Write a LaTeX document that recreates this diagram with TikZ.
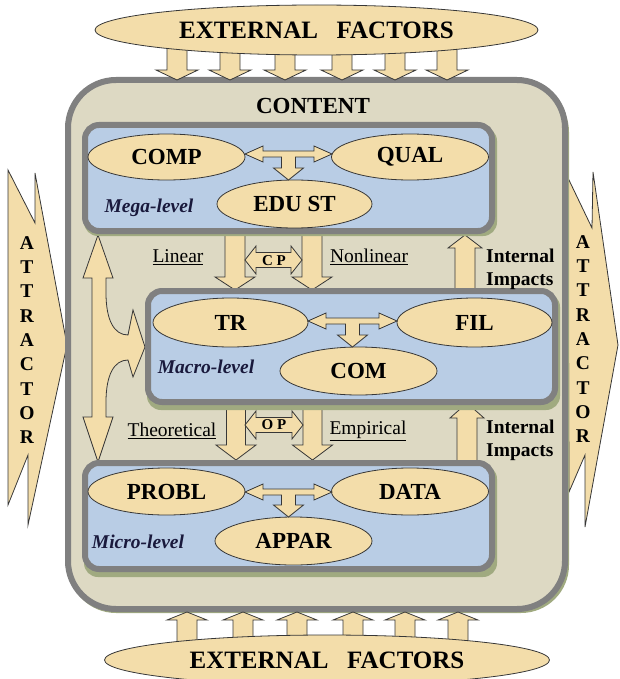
\documentclass[tikz,border=0pt]{standalone}
\usepackage{fontspec}
\setmainfont{Liberation Serif}
\usetikzlibrary{shapes.geometric}
\definecolor{tanfill}{RGB}{243,221,170}
\definecolor{beige}{RGB}{221,217,195}
\definecolor{lblue}{RGB}{185,205,229}
\definecolor{bordgray}{RGB}{128,128,128}
\definecolor{olivesh}{RGB}{160,170,128}
\definecolor{navy}{RGB}{25,25,60}
\definecolor{outl}{RGB}{55,55,55}
\newcommand{\myVarrow}[6]{% xc, ystart, ybase, ytip, shaft half, head half
  \draw[blk] ({#1-#5},#2) -- ({#1-#5},#3) -- ({#1-#6},#3) -- (#1,#4) -- ({#1+#6},#3) -- ({#1+#5},#3) -- ({#1+#5},#2) -- cycle;}
\newcommand{\myHarrow}[5]{% xL, xR, yc, shaft half, head half
  \draw[blk] (#1,#3) -- ({#1+11},{#3-#5}) -- ({#1+11},{#3-#4}) -- ({#2-11},{#3-#4}) -- ({#2-11},{#3-#5}) -- (#2,#3)
    -- ({#2-11},{#3+#5}) -- ({#2-11},{#3+#4}) -- ({#1+11},{#3+#4}) -- ({#1+11},{#3+#5}) -- cycle;}
\newcommand{\myTarrow}[4]{% xL, xR, yc, ytip
  \pgfmathsetmacro\myxc{(#1+#2)/2}%
  \pgfmathsetmacro\myyb{#4-12}%
  \draw[blk] (#1,#3) -- ({#1+18},{#3-8}) -- ({#1+18},{#3-3}) -- ({#2-18},{#3-3}) -- ({#2-18},{#3-8}) -- (#2,#3)
    -- ({#2-18},{#3+8}) -- ({#2-18},{#3+3}) -- ({\myxc+7},{#3+3}) -- ({\myxc+7},\myyb) -- ({\myxc+15},\myyb)
    -- (\myxc,#4) -- ({\myxc-15},\myyb) -- ({\myxc-7},\myyb) -- ({\myxc-7},{#3+3}) -- ({#1+18},{#3+3})
    -- ({#1+18},{#3+8}) -- cycle;}
\begin{document}
\begin{tikzpicture}[x=1pt,y=-1pt,
  blk/.style={fill=tanfill,draw=outl,line width=0.8pt,line join=miter},
  ell/.style={ellipse,fill=tanfill,draw=outl,line width=0.8pt,inner sep=0pt,font=\fontsize{23}{23}\selectfont\bfseries},
  extell/.style={ell,font=\fontsize{25}{25}\selectfont\bfseries},
  levelbox/.style={fill=lblue,draw=bordgray,line width=6pt,rounded corners=14pt},
  levelshadow/.style={fill=olivesh,rounded corners=14pt},
  lvl/.style={font=\fontsize{19.5}{20}\selectfont\bfseries\itshape,text=navy,inner sep=0pt},
  ul/.style={font=\fontsize{19.5}{20}\selectfont,inner sep=0pt},
  imp/.style={font=\fontsize{19.5}{23}\selectfont\bfseries,align=left,anchor=west,inner sep=0pt},
  small/.style={font=\fontsize{15}{15}\selectfont\bfseries,inner sep=0pt},
  attr/.style={font=\fontsize{19.5}{24.3}\selectfont\bfseries,align=center,inner sep=0pt}]
\useasboundingbox (0,0) rectangle (620,679);

% attractors
\draw[blk] (8,170) -- (35,223) -- (35,173) -- (67,345) -- (28,525) -- (28,455) -- (8,505) -- cycle;
\node[attr] (attrL) at (27,340) {A\\T\\T\\R\\A\\C\\T\\O\\R};
\draw[blk] (568,178) -- (592,228) -- (593,172) -- (618,345) -- (585,527) -- (585,455) -- (569,492) -- cycle;

% content box
\fill[olivesh,rounded corners=48pt] (68,84) rectangle (569,613);
\draw[fill=beige,draw=bordgray,line width=6pt,rounded corners=48pt] (68,80) rectangle (565,609);
\node[attr] (attrR) at (583,339) {A\\T\\T\\R\\A\\C\\T\\O\\R};
\node[font=\fontsize{23}{23}\selectfont\bfseries,inner sep=0pt] (content) at (313,106) {CONTENT};

% top external arrows
\foreach \xx in {177,230,285,342,395,447} {\myVarrow{\xx}{45}{70}{80}{10}{21}}
\node[extell,minimum width=443pt,minimum height=50pt] (extTop) at (316.5,30) {EXTERNAL\hspace{0.75em}FACTORS};

% bottom external arrows
\foreach \xx in {187,243,297,353,405,458} {\myVarrow{\xx}{645}{620}{612}{10}{20}}
\node[extell,minimum width=445pt,minimum height=50pt] (extBot) at (327,660) {EXTERNAL\hspace{0.75em}FACTORS};

% arrows between levels
\myVarrow{235}{225}{277}{290}{10}{20}
\myVarrow{312}{225}{277}{290}{10}{20}
\myVarrow{236}{398}{445}{460}{9.5}{20}
\myVarrow{312.5}{398}{445}{460}{9.5}{20}
\myVarrow{465}{300}{248}{235}{10}{17}
\myVarrow{467}{470}{418}{403}{10}{17}

% vertical double arrow with branch
\draw[blk] (98,235) -- (113,278) -- (106,278) -- (106,293)
  .. controls (106,320) and (114,335) .. (128,335) -- (133,310) -- (145,347) -- (133,377) -- (128,360)
  .. controls (114,360) and (106,375) .. (106,402) -- (106,417) -- (113,417) -- (98,462) -- (83,417)
  -- (92,417) -- (92,278) -- (83,278) -- cycle;

% level boxes
\fill[levelshadow] (84,127) rectangle (497,236);
\draw[levelbox] (85,125) rectangle (492,231);
\fill[levelshadow] (147,293) rectangle (560,410);
\draw[levelbox] (148,291) rectangle (555,402);
\fill[levelshadow] (84,465) rectangle (497,577);
\draw[levelbox] (85,463) rectangle (492,569);

% mega level
\node[ell,minimum width=157pt,minimum height=46pt] (comp) at (166.5,157) {COMP};
\node[ell,minimum width=157pt,minimum height=46pt] (qual) at (410,157) {QUAL};
\node[ell,minimum width=155pt,minimum height=48pt] (edust) at (294.5,204) {EDU ST};
\myTarrow{245}{332}{154}{180}
\node[lvl] (mega) at (149,208) {Mega-level};

% macro level
\node[ell,minimum width=155pt,minimum height=49pt] (tr) at (230.5,322.5) {TR};
\node[ell,minimum width=155pt,minimum height=49pt] (fil) at (474.5,322.5) {FIL};
\node[ell,minimum width=157pt,minimum height=48pt] (com) at (358.5,371) {COM};
\myTarrow{308}{397}{321}{347}
\node[lvl] (macro) at (206,367) {Macro-level};

% micro level
\node[ell,minimum width=157pt,minimum height=47pt] (probl) at (166.5,491.5) {PROBL};
\node[ell,minimum width=157pt,minimum height=47pt] (data) at (410,491.5) {DATA};
\node[ell,minimum width=157pt,minimum height=48pt] (appar) at (293.5,541) {APPAR};
\myTarrow{245}{332}{492}{517}
\node[lvl] (micro) at (138,542) {Micro-level};

% CP / OP
\myHarrow{245}{302}{260}{7.5}{14}
\node[small] (cp) at (274,261) {C P};
\myHarrow{245}{303}{425}{7.5}{14}
\node[small] (op) at (274,425) {O P};

% labels
\node[ul] (linear) at (178,257) {\underline{Linear}};
\node[ul] (nonlinear) at (369,257) {\underline{Nonlinear}};
\node[ul] (theo) at (172,431) {\underline{Theoretical}};
\node[ul] (emp) at (368,431) {\underline{Empirical}};
\node[imp] (imp1) at (486,269) {Internal\\Impacts};
\node[imp] (imp2) at (486,440) {Internal\\Impacts};
\end{tikzpicture}
\end{document}
